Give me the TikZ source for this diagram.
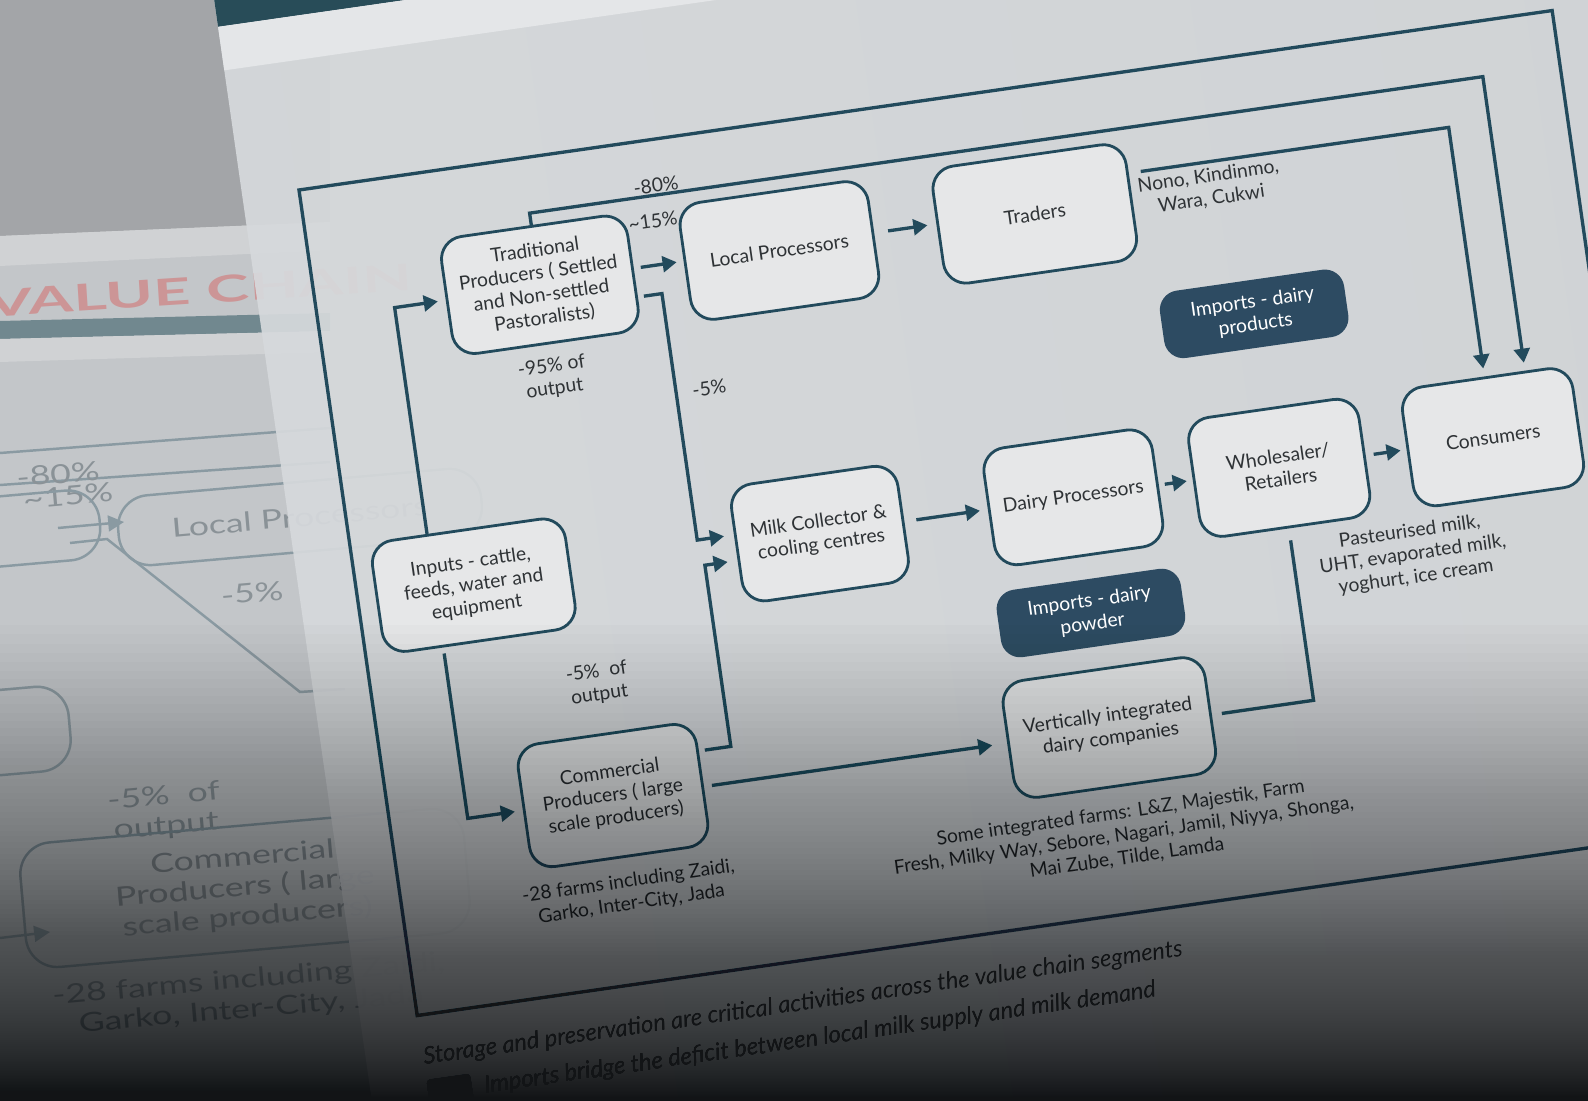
\documentclass[tikz,border=0pt]{standalone}
\usepackage{fontspec}
\setmainfont{Lato}
\usetikzlibrary{arrows.meta,calc}
\definecolor{ln}{HTML}{224A5C}
\definecolor{dk}{HTML}{2D4B62}
\definecolor{bx}{HTML}{E6E7E8}
\definecolor{tx}{HTML}{2F3336}
\definecolor{slA}{HTML}{D9DCDE}
\definecolor{slB}{HTML}{CED1D4}
\definecolor{slE}{HTML}{E7E9EA}
\definecolor{strip}{HTML}{E4E6E8}
\definecolor{hdr}{HTML}{284C58}
\definecolor{bgA}{HTML}{A3A5A8}
\definecolor{bgB}{HTML}{C3C6C9}
\definecolor{bgC}{HTML}{D0D2D4}
\definecolor{bgln}{HTML}{8A9AA2}
\definecolor{bgtx}{HTML}{8A9297}
\definecolor{vc}{HTML}{CC9596}
\definecolor{bgteal}{HTML}{71888F}
\definecolor{shadowc}{HTML}{121416}
\pgfdeclarehorizontalshading{slideshade}{100bp}{color(0bp)=(slE); color(2bp)=(slA); color(100bp)=(slB)}
\begin{document}
\begin{tikzpicture}[x=0.02cm, y=-0.02cm,
  box/.style={draw=ln, line width=1.6pt, fill=bx, rounded corners=13pt, align=center, text=tx, font=\fontsize{11}{13}\selectfont, inner sep=1pt},
  dbox/.style={fill=dk, rounded corners=11pt, align=center, text=white, font=\fontsize{11}{13}\selectfont, inner sep=1pt},
  lbl/.style={align=center, text=tx, font=\fontsize{11}{13}\selectfont, inner sep=1pt},
  conn/.style={draw=ln, line width=1.9pt},
  arr/.style={conn, -{Triangle[length=8pt,width=9pt]}},
  bgl/.style={draw=bgln, line width=1.4pt},
  bgt/.style={text=bgtx, font=\fontsize{15}{17}\selectfont, rotate=5, xscale=1.35, align=center},
  bgbox/.style={bgt, draw=bgln, line width=1.4pt, rounded corners=18pt},
  note/.style={anchor=west, text=tx, font=\fontsize{13.5}{16}\selectfont\itshape, inner sep=0pt},
]
\useasboundingbox (0,0) rectangle (1588,1101);
\clip (0,0) rectangle (1588,1101);

% ---------- background (blurred copy of the slide) ----------
\fill[bgB] (0,0) rectangle (1588,1101);
\fill[bgA] (0,0) -- (330,0) -- (330,222) -- (0,236) -- cycle;
\fill[bgC] (0,236) -- (330,222) -- (330,250) -- (0,266) -- cycle;
\node[text=vc, font=\fontsize{21}{21}\selectfont\bfseries, rotate=3.7, xscale=1.75, anchor=base west] (vchain) at (-22,318) {VALUE CHAIN};
\fill[bgteal] (0,321) -- (330,313) -- (330,331) -- (0,339) -- cycle;
\fill[bgC] (0,339) -- (330,331) -- (330,352) -- (0,362) -- cycle;
\draw[bgl] (0,453) -- (330,428);
\draw[bgl] (0,485) -- (330,462);
\node[bgt] (bg80) at (58,474) {-80\%};
\node[bgt] (bg15) at (68,496) {\textasciitilde15\%};
\node[bgbox, minimum width=5.2cm, minimum height=1.4cm] (bgtrad) at (-75,538) {};
\draw[bgl, -{Triangle[length=9pt,width=9pt]}] (58,528) -- (124,522);
\node[bgbox, minimum width=5.4cm, minimum height=1.4cm] (bglocal) at (300,517) {Local Processors};
\draw[bgl] (70,543) -- (107,539) -- (300,692) -- (345,689);
\node[bgt] (bg5) at (252,593) {-5\%};
\node[bgbox, minimum width=4.6cm, minimum height=1.7cm] (bginp) at (-85,740) {};
\node[bgt] (bg5o) at (165,812) {-5\%\ \ of\\output};
\node[bgbox, minimum width=6.6cm, minimum height=2.5cm] (bgcomm) at (245,888) {Commercial\\Producers ( large\\scale producers)};
\draw[bgl, -{Triangle[length=9pt,width=9pt]}] (0,938) -- (50,932);
\node[bgt] (bg28) at (250,995) {-28 farms including Zaidi,\\Garko, Inter-City, Jada};

% ---------- main slide (tilted) ----------
\begin{scope}[transform canvas={shift={(299,190)}, rotate=8.15}]
\shade[shading=slideshade, opacity=0.93] (-57,-400) rectangle (1800,1300);
\fill[hdr] (-57,-400) rectangle (1800,-173);
\fill[strip] (-57,-173) rectangle (1800,-129);

\draw[conn] (0,0) rectangle (1266,834);

\node[box, minimum width=3.76cm, minimum height=2.36cm] (trad) at (225,128) {Traditional\\Producers ( Settled\\and Non-settled\\Pastoralists)};
\node[box, minimum width=3.8cm, minimum height=2.36cm] (local) at (467,128) {Local Processors};
\node[box, minimum width=3.9cm, minimum height=2.36cm] (traders) at (725,128) {Traders};
\node[dbox, minimum width=3.72cm, minimum height=1.36cm] (impprod) at (928,258) {Imports - dairy\\products};
\node[box, minimum width=3.9cm, minimum height=2.24cm] (inputs) at (117,416) {Inputs - cattle,\\feeds, water and\\equipment};
\node[box, minimum width=3.36cm, minimum height=2.36cm] (milk) at (467,414) {Milk Collector \&\\cooling centres};
\node[box, minimum width=3.4cm, minimum height=2.36cm] (dairy) at (723,414) {Dairy Processors};
\node[box, minimum width=3.44cm, minimum height=2.4cm] (whole) at (931,414) {Wholesaler/\\Retailers};
\node[box, minimum width=3.44cm, minimum height=2.4cm] (cons) at (1147,414) {Consumers};
\node[dbox, minimum width=3.72cm, minimum height=1.36cm] (imppow) at (724,531) {Imports - dairy\\powder};
\node[box, minimum width=4.08cm, minimum height=2.36cm] (vert) at (726,647) {Vertically integrated\\dairy companies};
\node[box, minimum width=3.6cm, minimum height=2.48cm] (comm) at (225,644) {Commercial\\Producers ( large\\scale producers)};

% connectors
\draw[arr] ($(inputs.north)+(-39,0)$) |- ($(trad.west)+(-8,2)$);
\draw[arr] ($(inputs.south)+(-39,6)$) |- ($(comm.west)+(-8,2)$);
\draw[arr] ($(trad.east)+(7,-3)$) -- ($(local.west)+(-7,-3)$);
\draw[arr] ($(local.east)+(14,-4)$) -- ($(traders.west)+(-9,-4)$);
\draw[arr] (trad.north) -- ++(0,-12) -| ($(cons.north)+(41,-8)$);
\draw[arr] ($(traders.east)+(12,-27)$) -| ($(cons.north)+(0,-8)$);
\draw[arr] ($(trad.east)+(6,26)$) -| ($(milk.west)+(-37,-11)$) -- ($(milk.west)+(-10,-11)$);
\draw[arr] ($(comm.east)+(6,-32)$) -| ($(milk.west)+(-33,15)$) -- ($(milk.west)+(-10,15)$);
\draw[arr] ($(milk.east)+(12,0)$) -- ($(dairy.west)+(-8,0)$);
\draw[arr] ($(dairy.east)+(6,0)$) -- ($(whole.west)+(-6,0)$);
\draw[arr] ($(whole.east)+(8,0)$) -- ($(cons.west)+(-6,0)$);
\draw[arr] ($(comm.east)+(8,4)$) -- ($(vert.west)+(-15,1)$);
\draw[conn] ($(vert.east)+(10,2)$) -| ($(whole.south)+(1,12)$);

% labels
\node[lbl] (l80) at (354,46) {-80\%};
\node[lbl] (l15) at (346,81) {\textasciitilde15\%};
\node[lbl] (l95) at (225,222) {-95\% of\\output};
\node[lbl] (l5) at (378,254) {-5\%};
\node[lbl] (l5o) at (226,531) {-5\%\ \ of\\output};
\node[lbl] (lnono) at (902,127) {Nono, Kindinmo,\\Wara, Cukwi};
\node[lbl] (lpast) at (1051,519) {Pasteurised milk,\\UHT, evaporated milk,\\yoghurt, ice cream};
\node[lbl] (l28) at (228,743) {-28 farms including Zaidi,\\Garko, Inter-City, Jada};
\node[lbl] (lsome) at (725,756) {Some integrated farms: L\&Z, Majestik, Farm\\Fresh, Milky Way, Sebore, Nagari, Jamil, Niyya, Shonga,\\Mai Zube, Tilde, Lamda};

% notes below the frame
\node[note] (note1) at (0,877) {Storage and preservation are critical activities across the value chain segments};
\node[fill=dk, minimum width=0.88cm, minimum height=0.72cm, rounded corners=2pt, inner sep=0pt] (legend) at (22,917) {};
\node[note] (note2) at (56,914) {Imports bridge the deficit between local milk supply and milk demand};
\end{scope}

% ---------- darkening toward the bottom ----------
\foreach \k in {1,...,120}{
  \pgfmathsetmacro\yk{615+486*(1-0.98249^\k)/0.88}
  \fill[shadowc, opacity=0.01751] (0,\yk) rectangle (1588,1101);
}
\end{tikzpicture}
\end{document}
